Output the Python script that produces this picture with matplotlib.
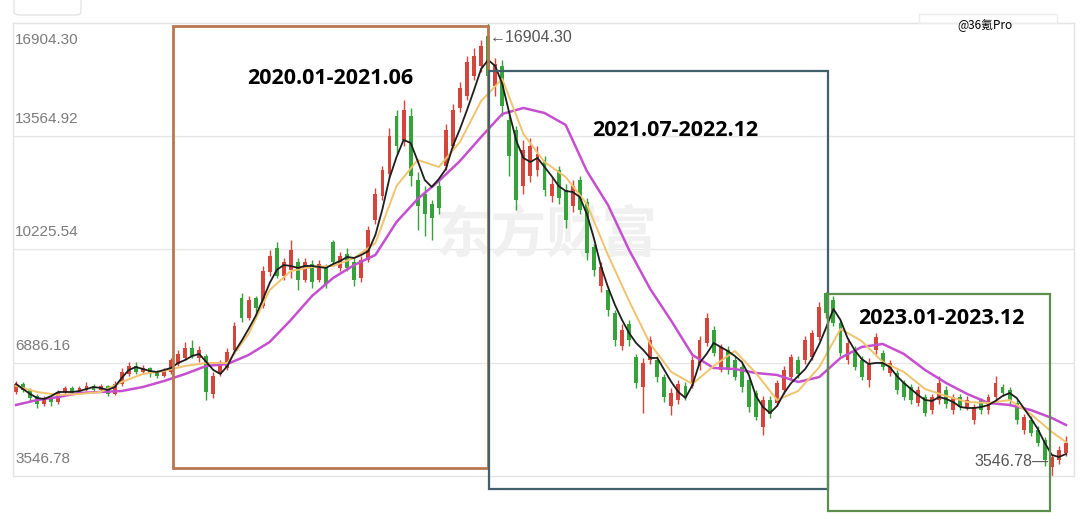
import matplotlib
matplotlib.use("Agg")
import matplotlib.pyplot as plt
from matplotlib.patches import Rectangle, FancyBboxPatch
import numpy as np

W, H = 1080, 525

# weekly candles
opens = [6024, 6260, 6083, 5906, 5670, 5847, 5729, 6024, 6142, 6024,
         6083, 6201, 6083, 6201, 5965, 6260, 6555, 6791, 6614, 6732,
         6614, 6496, 6614, 6850, 7027, 7322, 7027, 7086, 5965, 6555,
         6732, 7263, 8796, 8207, 8796, 8560, 9563, 10271, 9445, 9622,
         9858, 9327, 9799, 9327, 9681, 10448, 9681, 10094, 9858, 9386,
         9917, 11097, 11804, 12453, 14163, 13456, 14163, 12276, 11863, 11568,
         12099, 12689, 13279, 14399, 14753, 15343, 15638, 16523, 15048, 15638,
         14045, 13751, 12099, 12394, 12571, 12866, 11804, 12571, 11981, 11509,
         12276, 11627, 10301, 9150, 9032, 8354, 7381, 8030, 7056, 6171,
         6968, 6968, 6466, 5611, 5788, 6201, 6201, 6791, 7469, 7853,
         6673, 7263, 6968, 6761, 6378, 5994, 4992, 5788, 5700, 6083,
         6466, 6968, 6968, 7056, 7646, 8943, 8737, 8059, 6968, 7263,
         6968, 6378, 7263, 7174, 6584, 6584, 6289, 6171, 5700, 5876,
         5493, 5788, 6083, 5493, 5876, 5582, 5199, 5788, 5493, 5876,
         6171, 6083, 5700, 4904, 5199, 4904, 4609, 3812, 4019, 4225]
closes = [6260, 6083, 5847, 5670, 5847, 5729, 6024, 6142, 6024, 6142,
          6201, 6083, 6201, 5965, 6260, 6614, 6791, 6614, 6732, 6555,
          6496, 6673, 6968, 7145, 7322, 7086, 7263, 6024, 6496, 6850,
          7204, 7971, 8207, 8737, 8501, 9592, 10035, 9445, 9858, 10212,
          9327, 9858, 9268, 9799, 9209, 9858, 10035, 9681, 9327, 9917,
          10802, 11863, 12571, 13574, 13279, 14340, 12394, 11509, 11273, 11155,
          11450, 13751, 14340, 14989, 15756, 15933, 16228, 15343, 15697, 14458,
          12984, 11686, 13161, 13279, 13043, 11981, 12158, 11745, 11097, 12099,
          11391, 10124, 9622, 9710, 8442, 7558, 7853, 7558, 6289, 6880,
          7558, 6466, 5876, 5994, 6260, 5906, 6968, 7558, 8207, 7174,
          7351, 6673, 6466, 6171, 5582, 5287, 5788, 5375, 6289, 6673,
          7056, 6555, 7558, 7764, 8531, 8354, 8059, 7174, 7469, 6761,
          6466, 6880, 7646, 6761, 6880, 6083, 5876, 5788, 6083, 5405,
          5876, 6289, 5670, 5876, 5582, 5788, 5582, 5493, 5876, 6289,
          5994, 5788, 5199, 5287, 4815, 4520, 4019, 4107, 4314, 4520]
highs = [6348, 6319, 6142, 5965, 5906, 5906, 6083, 6201, 6201, 6201,
         6319, 6260, 6260, 6230, 6348, 6732, 6909, 6909, 6820, 6761,
         6673, 6732, 7027, 7263, 7499, 7558, 7381, 7145, 6614, 6968,
         7322, 8089, 8943, 8855, 8855, 9740, 10212, 10448, 9976, 10507,
         9976, 9976, 9917, 9917, 9799, 10507, 10153, 10271, 9976, 10035,
         10920, 12040, 12689, 13810, 14340, 14635, 14399, 12512, 12099, 11686,
         12276, 13928, 14517, 15166, 15933, 16169, 16405, 16904.30, 15874, 15815,
         14222, 13869, 13456, 13515, 13279, 12984, 12335, 12689, 12158, 12276,
         12394, 11745, 10389, 9858, 9150, 8442, 8030, 8148, 7145, 7027,
         7676, 7086, 6555, 6142, 6378, 6319, 7086, 7676, 8354, 7971,
         7440, 7381, 7086, 6850, 6466, 6083, 5906, 5906, 6378, 6791,
         7145, 7086, 7676, 7853, 8678, 8973, 8855, 8148, 7617, 7381,
         7086, 7027, 7764, 7263, 6968, 6673, 6378, 6260, 6201, 5965,
         5965, 6496, 6201, 5965, 5965, 5906, 5670, 5847, 5965, 6496,
         6260, 6171, 5788, 5375, 5316, 5022, 4697, 4196, 4432, 4727]
lows = [5965, 6024, 5729, 5552, 5611, 5611, 5670, 5965, 5965, 5994,
        6053, 6024, 6053, 5906, 5936, 6201, 6496, 6555, 6555, 6466,
        6437, 6466, 6555, 6791, 6968, 7027, 6909, 5788, 5847, 6496,
        6673, 7145, 8089, 8148, 8383, 8501, 9445, 9386, 9327, 9386,
        9032, 9268, 9091, 9268, 9091, 9740, 9592, 9592, 9150, 9268,
        9858, 10979, 11686, 12335, 13043, 13279, 12099, 10802, 10625, 10507,
        11273, 12571, 13161, 14281, 14635, 15225, 15461, 15107, 14753, 14163,
        12394, 11391, 11863, 12217, 12394, 11804, 11627, 11568, 10861, 11332,
        11273, 9917, 9445, 8973, 8265, 7381, 7263, 7381, 6142, 5405,
        6850, 6319, 5729, 5346, 5670, 5788, 6142, 6673, 7381, 7086,
        6614, 6555, 6378, 6024, 5434, 5199, 4756, 5258, 5611, 5965,
        6378, 6437, 6850, 6968, 7558, 8207, 7971, 7086, 6850, 6673,
        6378, 6171, 7145, 6673, 6496, 5965, 5788, 5670, 5611, 5316,
        5375, 5670, 5552, 5375, 5493, 5493, 5081, 5375, 5375, 5788,
        5906, 5670, 5081, 4786, 4727, 4432, 3842, 3546.78, 3901, 4137]

# short moving average (black), one value per week
ma_black = [6260, 6112, 5965, 5847, 5818, 5906, 6024, 6024, 6024, 6053,
            6112, 6171, 6142, 6083, 6171, 6437, 6673, 6761, 6703, 6643,
            6614, 6673, 6732, 6880, 6968, 7086, 7145, 6909, 6673, 6555,
            6791, 7204, 7528, 7882, 8265, 8737, 9238, 9622, 9769, 9740,
            9681, 9740, 9740, 9710, 9681, 9799, 9887, 10005, 9976, 10065,
            10182, 10655, 11420, 12335, 12954, 13456, 13368, 12836, 12276, 12069,
            12305, 12600, 13279, 13780, 14340, 14930, 15549, 15815, 15638, 15107,
            14251, 13427, 12925, 12807, 12925, 12660, 12394, 12099, 11951, 11922,
            11774, 11273, 10566, 9740, 9120, 8590, 8148, 7764, 7469, 7263,
            7027, 7027, 6673, 6319, 6024, 5847, 6230, 6880, 7145, 7469,
            7351, 7233, 7086, 6909, 6526, 5906, 5582, 5405, 5611, 5994,
            6289, 6496, 6703, 7027, 7440, 7941, 8472, 8148, 7617, 7263,
            6998, 6850, 6880, 6880, 6761, 6496, 6289, 6112, 5936, 5788,
            5759, 5876, 5818, 5729, 5582, 5552, 5552, 5582, 5641, 5759,
            5906, 5994, 5847, 5552, 5257, 4933, 4520, 4166, 4107, 4196]

# longer moving averages, read every third week
ma_idx = list(range(0, 148, 3)) + [149]
ma_yellow = [6201, 6024, 5936, 5965, 6024, 6319, 6555, 6643, 6791, 6880,
             6880, 7735, 9032, 9592, 9710, 9740, 9976, 10418, 12099, 12866,
             12660, 13397, 14605, 15254, 13633, 12807, 12364, 11568, 10065, 8707,
             7440, 6614, 6260, 6791, 7233, 6584, 5788, 6053, 6761, 7882,
             7528, 6909, 6614, 6112, 5906, 5729, 5700, 5788, 5375, 4845, 4550]
ma_pink = [5641, 5788, 5876, 5994, 6024, 6053, 6171, 6348, 6555, 6791,
           6850, 7115, 7499, 8148, 8855, 9386, 9769, 10065, 11038, 11716,
           12246, 12836, 13544, 14222, 14399, 14251, 13898, 12541, 11539, 10212,
           9061, 8118, 7115, 6732, 6703, 6584, 6526, 6319, 6466, 7027,
           7351, 7440, 7145, 6673, 6289, 5965, 5700, 5641, 5493, 5257, 5052]

yticks = [3546.78, 6886.16, 10225.54, 13564.92, 16904.30]
periods = ["2020.01-2021.06", "2021.07-2022.12", "2023.01-2023.12"]

RED = "#d6453c"
GREEN = "#35a23a"
LABEL_FONT = ["Liberation Sans", "DejaVu Sans"]


def fx(px):
    return px / W


def fy(py):
    return 1 - py / H


fig = plt.figure(figsize=(W / 100, H / 100), dpi=100)
fig.patch.set_facecolor("white")
ax = fig.add_axes([fx(13), fy(476), fx(1074) - fx(13), (476 - 23) / H])
ax.set_xlim(-0.43, 150.14)
ax.set_ylim(yticks[0], yticks[-1])
ax.set_xticks([])
ax.set_yticks([])
for s in ax.spines.values():
    s.set_color("#e3e3e3")
    s.set_linewidth(1)

for v in yticks[1:-1]:
    ax.axhline(v, color="#e6e6e6", lw=1, zorder=0)

# watermark
ax.text(0.503, 0.53, "东方财富", transform=ax.transAxes, ha="center", va="center",
        fontsize=40, fontweight="bold", color="#f0f0f0",
        family=["Noto Sans CJK SC", "DejaVu Sans"], zorder=0.5)

x = np.arange(len(closes))
o = np.array(opens, dtype=float)
c = np.array(closes, dtype=float)
cols = [RED if cc >= oo else GREEN for oo, cc in zip(o, c)]
ax.vlines(x, lows, highs, colors=cols, lw=1, zorder=2)
ax.bar(x, np.maximum(np.abs(c - o), 25), bottom=np.minimum(o, c), width=0.55,
       color=cols, edgecolor="none", zorder=2.1)

ax.plot(ma_idx, ma_pink, color="#c64fcf", lw=1.8, zorder=3)
ax.plot(ma_idx, ma_yellow, color="#f1c36e", lw=1.4, zorder=3.1)
ax.plot(x, ma_black, color="#1e1e1e", lw=1.3, zorder=3.2)

# y labels sit inside the plot, just above their grid line
ytr = ax.get_yaxis_transform()
for v in yticks:
    top = v == yticks[-1]
    ax.annotate(f"{v:.2f}", xy=(0, v), xycoords=ytr, xytext=(2, -10 if top else 10),
                textcoords="offset pixels", ha="left", va="top" if top else "bottom",
                fontsize=11, color="#7b7b7b", family=LABEL_FONT)

# max / min markers
imax = int(np.argmax(highs))
imin = int(np.argmin(lows))
ax.annotate("\u2190" + f"{highs[imax]:.2f}", xy=(imax, highs[imax]), xytext=(2, -15),
            textcoords="offset pixels", ha="left", va="center", fontsize=11.5,
            color="#555555", family=LABEL_FONT)
ax.annotate(f"{lows[imin]:.2f}" + "\u2014", xy=(imin, lows[imin]), xytext=(-3, 14),
            textcoords="offset pixels", ha="right", va="center", fontsize=11.5,
            color="#555555", family=LABEL_FONT)

# period boxes
boxes = [(173, 26, 488, 468, "#b9774f", 2.0),
         (489, 71, 828, 489, "#40606b", 1.6),
         (828, 294, 1050, 511, "#5d8d4f", 1.6)]
label_pos = [(330, 78), (675, 130), (941, 319)]
for (x0, y0, x1, y1, ec, lw), name, (tx, ty) in zip(boxes, periods, label_pos):
    fig.add_artist(Rectangle((fx(x0), fy(y1)), fx(x1) - fx(x0), (y1 - y0) / H,
                             transform=fig.transFigure, fill=False, ec=ec, lw=lw,
                             zorder=5))
    fig.text(fx(tx), fy(ty), name, ha="center", va="center", fontsize=15.5,
             fontweight="bold", color="black", family=["Open Sans", "DejaVu Sans"],
             zorder=6)

# screenshot bits at the top
fig.add_artist(FancyBboxPatch((fx(14), fy(15)), fx(81) - fx(14), 20 / H,
                              boxstyle="round,pad=0,rounding_size=0.006",
                              transform=fig.transFigure, fill=False, ec="#e4e4e4", lw=1))
fig.add_artist(Rectangle((fx(919), fy(23)), fx(1057) - fx(919), 9 / H,
                         transform=fig.transFigure, fill=False, ec="#ececec", lw=1))
fig.text(fx(985), fy(26), "@36氪Pro", ha="center", va="center", fontsize=8.5,
         color="black", family=["Noto Sans CJK SC", "DejaVu Sans"])

fig.savefig("out.png", dpi=100, facecolor="white")
